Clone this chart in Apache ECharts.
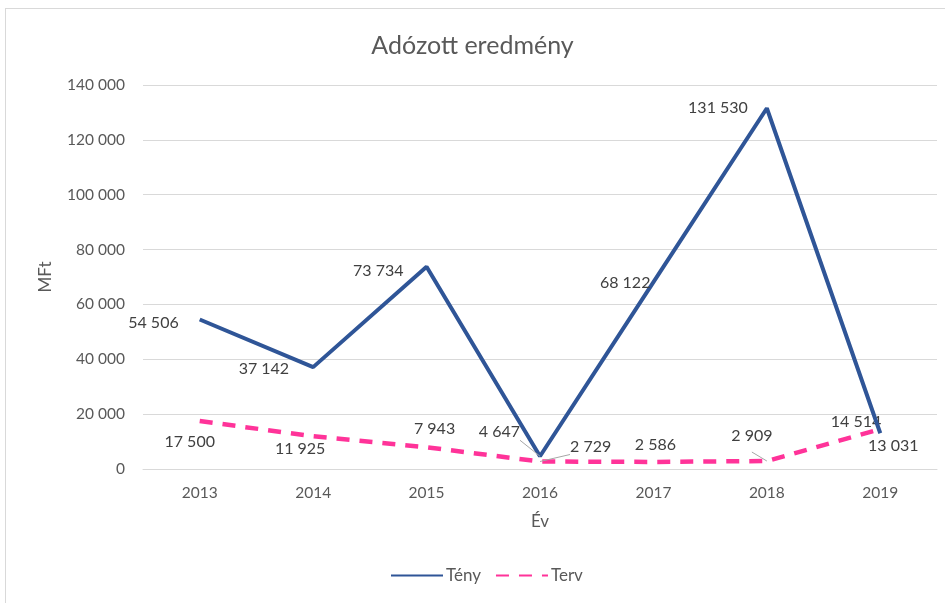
<!DOCTYPE html>
<html>
<head>
<meta charset="utf-8">
<script src="https://cdn.jsdelivr.net/npm/echarts@6/dist/echarts.min.js"></script>
<style>
  html, body { margin: 0; padding: 0; background: #fff; }
  #frame { position: absolute; left: 5px; top: 8px; width: 1000px; height: 700px; border: 1px solid #d9d9d9; }
  #chart { position: absolute; left: 0; top: 0; width: 945px; height: 603px; }
</style>
</head>
<body>
<div id="frame"></div>
<div id="chart"></div>
<script>
const years = ['2013', '2014', '2015', '2016', '2017', '2018', '2019']
const teny = [54506, 37142, 73734, 4647, 68122, 131530, 13031]
const terv = [17500, 11925, 7943, 2729, 2586, 2909, 14514]

// label placement per point (mimics the hand-placed Excel labels)
const tenyLabelPos = [
  ['left', [-16, 3]], ['left', [-19, 2]], ['left', [-18, 4]], ['left', [-15, -24], true],
  ['left', [2, 1]], ['left', [-14, 0]], ['bottom', [13, 0]]
]
const tervLabelPos = [
  ['bottom', [-10, 8]], ['bottom', [-13, 0]], ['top', [8, -5]], ['right', [25, -15], true],
  ['top', [2, -4]], ['top', [-15, -12], true], ['left', [6, -7]]
]

const fontFamily = 'Lato, "Open Sans", sans-serif'

function fmt(v) {
  return String(v).replace(/\B(?=(\d{3})+(?!\d))/g, ' ')
}

function buildData(values, positions) {
  return values.map((v, i) => {
    const p = positions[i]
    return {
      value: v,
      label: { position: p[0], offset: p[1] },
      labelLine: { show: !!p[2], lineStyle: { color: '#a6a6a6', width: 1 } }
    }
  })
}

const labelStyle = {
  show: true,
  color: '#404040',
  fontSize: 16,
  fontFamily,
  formatter: p => fmt(p.value)
}

const chart = echarts.init(document.getElementById('chart'))
chart.setOption({
  animation: false,
  textStyle: { fontFamily },
  title: {
    text: 'Adózott eredmény',
    left: 'center',
    top: 28,
    textStyle: { fontSize: 25, fontWeight: 'normal', color: '#595959', fontFamily }
  },
  legend: {
    bottom: 14,
    left: 385,
    itemWidth: 52,
    itemHeight: 10,
    itemGap: 14,
    itemStyle: { opacity: 0 },
    textStyle: { fontSize: 17, color: '#595959', fontFamily, padding: [0, 0, 0, -2] },
    data: ['Tény', 'Terv']
  },
  grid: { left: 143, right: 8, top: 85, bottom: 134 },
  xAxis: {
    type: 'category',
    data: years,
    name: 'Év',
    nameLocation: 'middle',
    nameGap: 44,
    nameTextStyle: { fontSize: 17, color: '#595959' },
    axisLine: { lineStyle: { color: '#d9d9d9' } },
    axisTick: { show: false },
    axisLabel: { color: '#595959', fontSize: 15.5, margin: 16 }
  },
  yAxis: {
    type: 'value',
    min: 0,
    max: 140000,
    interval: 20000,
    name: 'MFt',
    nameLocation: 'middle',
    nameGap: 89,
    nameTextStyle: { fontSize: 17, color: '#595959' },
    axisLine: { show: false },
    axisTick: { show: false },
    splitLine: { lineStyle: { color: '#d9d9d9' } },
    axisLabel: { color: '#595959', fontSize: 15.5, margin: 18, formatter: v => fmt(v) }
  },
  series: [
    {
      name: 'Tény',
      type: 'line',
      data: buildData(teny, tenyLabelPos),
      symbol: 'circle',
      symbolSize: 0,
      itemStyle: { color: '#2f5597' },
      lineStyle: { color: '#2f5597', width: 4 },
      label: labelStyle,
      z: 3
    },
    {
      name: 'Terv',
      type: 'line',
      data: buildData(terv, tervLabelPos),
      symbol: 'circle',
      symbolSize: 0,
      itemStyle: { color: '#ff3399' },
      lineStyle: { color: '#ff3399', width: 4.5, type: [13, 10] },
      label: labelStyle,
      z: 2
    }
  ]
})
</script>
</body>
</html>
